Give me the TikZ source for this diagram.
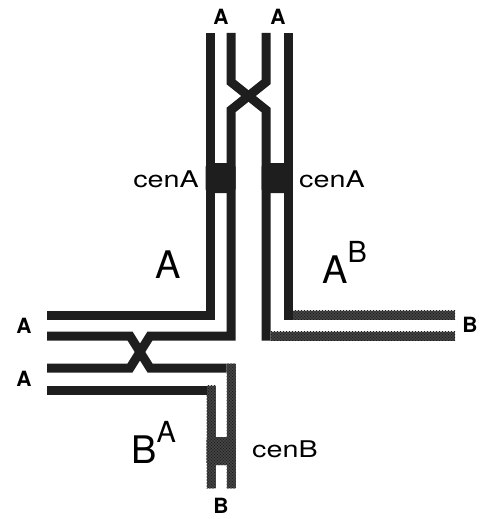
\documentclass[tikz,border=0pt]{standalone}
\usepackage{fontspec}
\setmainfont{TeX Gyre Heros}
\newfontfamily\widefont[FakeStretch=1.25]{TeX Gyre Heros}
\usetikzlibrary{patterns}
\definecolor{chromA}{RGB}{30, 30, 30}
\definecolor{chromB}{RGB}{80, 80, 80}
\definecolor{paper}{RGB}{255, 255, 255}

% fine stipple for the B material
\pgfdeclarepatternformonly{stipple}{\pgfqpoint{-1pt}{-1pt}}{\pgfqpoint{4pt}{4pt}}{\pgfqpoint{3pt}{3pt}}{%
  \pgfpathcircle{\pgfqpoint{0pt}{0pt}}{0.95pt}
  \pgfpathcircle{\pgfqpoint{1.5pt}{1.5pt}}{0.95pt}
  \pgfusepath{fill}}

\begin{document}
\begin{tikzpicture}[
    x=1pt, y=-1pt,
    strand/.style={draw=chromA, line width=9pt, line join=miter, line cap=butt},
    stippled/.style={fill=chromB, postaction={pattern=stipple, pattern color=chromA}},
    endlabel/.style={font=\fontsize{21}{21}\selectfont\bfseries, inner sep=0pt},
    cenlabel/.style={font=\widefont\fontsize{23}{23}\selectfont, inner sep=0pt},
    armlabel/.style={font=\fontsize{38}{38}\selectfont, inner sep=0pt},
]
    \fill[paper] (0,0) rectangle (481,519);
    \useasboundingbox (0,0) rectangle (481,519);

    % --- chromosome A, top arms with the exchange ---
    \draw[strand] (210,33) -- (210,315) -- (47,315);
    \draw[strand] (231,33) -- (231,82) -- (266,110) -- (266,336) -- (270.5,336);
    \draw[strand] (266,33) -- (266,82) -- (231,110) -- (231,336) -- (150,336) -- (130,368) -- (47,368);
    \draw[strand] (288,33) -- (288,315) -- (292.5,315);

    % --- left arms, second exchange ---
    \draw[strand] (47,336) -- (130,336) -- (150,368) -- (226.5,368);
    \draw[strand] (47,390) -- (206.5,390);

    % --- B pieces ---
    \fill[stippled] (292.5,310.5) rectangle (455,319.5);
    \fill[stippled] (270.5,331.5) rectangle (455,340.5);
    \fill[stippled] (226.5,363.5) rectangle (235.5,488);
    \fill[stippled] (206.5,385.5) rectangle (215.5,488);

    % centromeres
    \fill[chromA, rounded corners=4pt] (205.5,163) rectangle (235.5,193);
    \fill[chromA, rounded corners=4pt] (261.5,163) rectangle (292.5,193);
    \fill[stippled, rounded corners=3pt] (206.5,437) rectangle (235.5,465);

    % --- labels ---
    \node[endlabel] (topA1) at (221,17) {A};
    \node[endlabel] (topA2) at (278,17) {A};
    \node[endlabel] (leftA1) at (24,326) {A};
    \node[endlabel] (leftA2) at (24,379) {A};
    \node[endlabel] (rightB) at (470,325) {B};
    \node[endlabel] (bottomB) at (221,506) {B};

    \node[cenlabel, anchor=base east] (cenAleft) at (199,187) {cenA};
    \node[cenlabel, anchor=base west] (cenAright) at (299,187) {cenA};
    \node[cenlabel, anchor=base west] (cenB) at (252,457) {cenB};

    \node[armlabel, anchor=base] (armA) at (168.5,278) {A};
    \node[armlabel, anchor=base west] (armAB) at (322,283) {A\raisebox{21pt}{\fontsize{29}{29}\selectfont B}};
    \node[armlabel, anchor=base west] (armBA) at (131,463) {B\raisebox{21pt}{\fontsize{29}{29}\selectfont A}};
\end{tikzpicture}
\end{document}
